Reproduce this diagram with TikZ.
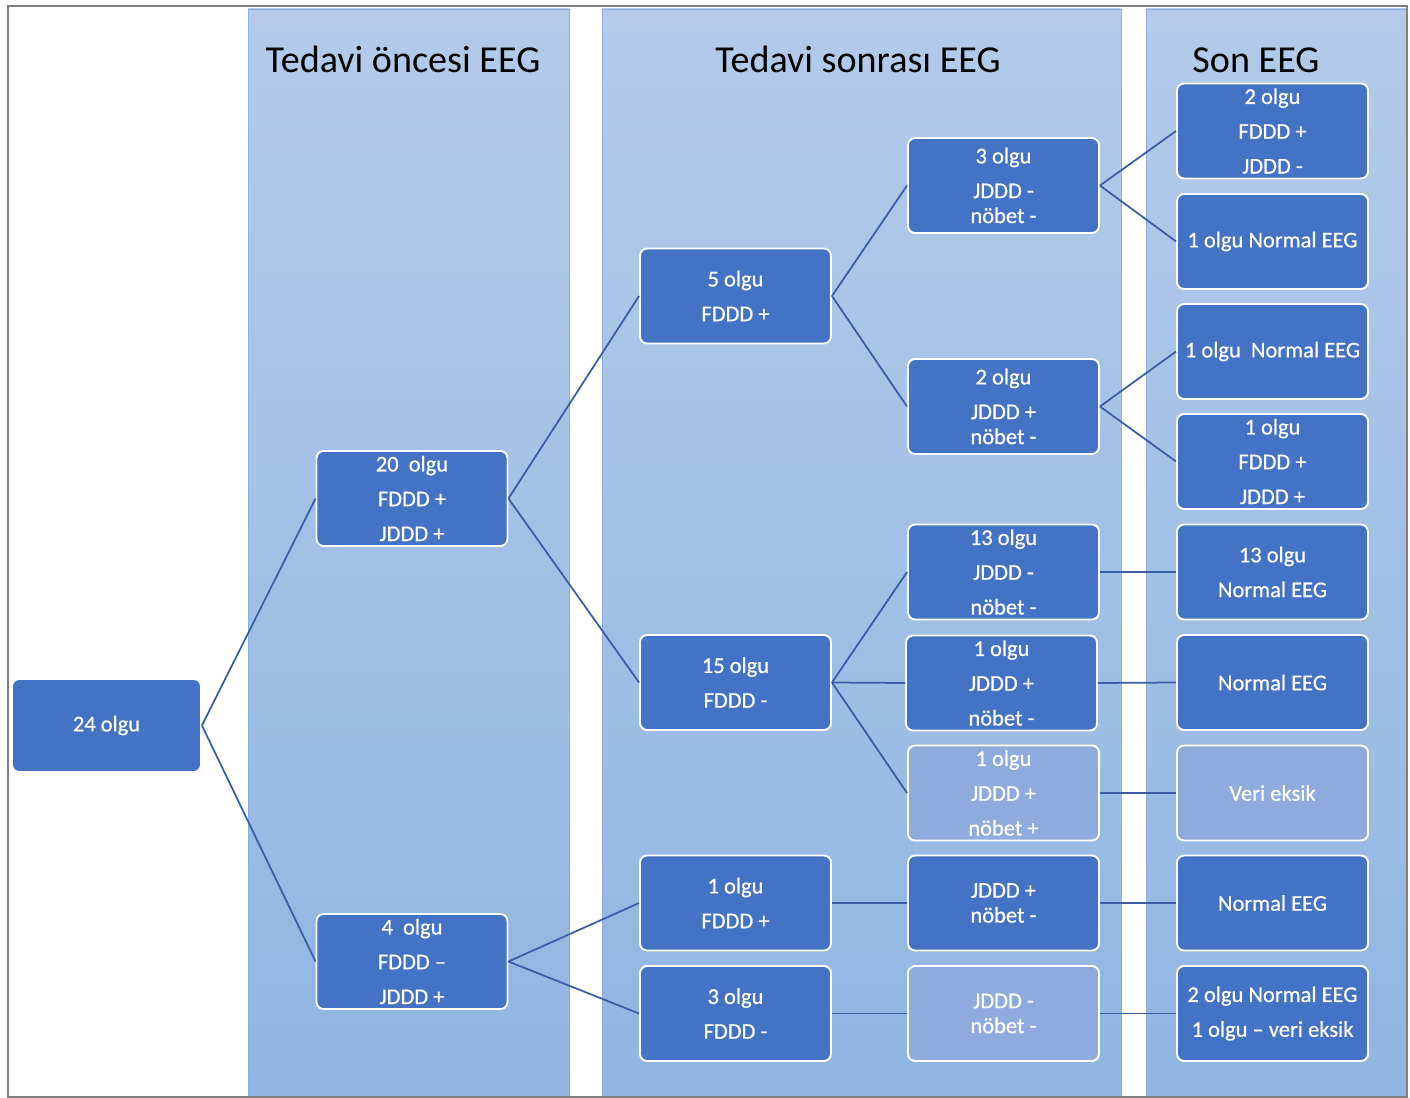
\documentclass[tikz,border=0pt]{standalone}
\usepackage{fontspec}
\setmainfont{Carlito}
\newfontfamily\kutufont[FakeBold=0.6,Ligatures=TeX]{Carlito}
\definecolor{boxblue}{HTML}{4472C4}
\definecolor{boxpale}{HTML}{8FAADC}
\definecolor{linkblue}{HTML}{3A5DA5}
\definecolor{coltop}{HTML}{B3CBE9}
\definecolor{colbot}{HTML}{90B5E2}
\definecolor{coledge}{HTML}{8AB0E0}

\begin{document}
\begin{tikzpicture}[x=0.02cm, y=-0.02cm,
  olgu/.style={draw=white, line width=1.1pt, fill=boxblue, rounded corners=4pt,
    text=white, minimum width=3.82cm, minimum height=1.9cm, inner sep=0pt,
    align=center, font=\kutufont\fontsize{12.8}{14.2}\selectfont},
  soluk/.style={olgu, fill=boxpale},
  baslik/.style={font=\fontsize{21.7}{24}\selectfont, anchor=base},
  kolon/.style={draw=coledge, line width=0.5pt, top color=coltop, bottom color=colbot},
  bag/.style={draw=linkblue, line width=1pt}]
  \useasboundingbox (0, 0) rectangle (1410, 1098);

  % columns
  \path [kolon] (248, 9) rectangle (569, 1098);
  \path [kolon] (602, 9) rectangle (1121, 1098);
  \path [kolon] (1146, 9) rectangle (1407, 1098);
  \draw [gray, line width=0.6pt] (8, 6) rectangle (1407, 1097);

  \node (t1) at (403, 73) [baslik] {Tedavi öncesi EEG};
  \node (t2) at (858, 73) [baslik] {Tedavi sonrası EEG};
  \node (t3) at (1256, 73) [baslik] {Son EEG};

  % first levels
  \node (n24) at (106.5, 725.5) [olgu, minimum width=3.78cm, minimum height=1.86cm] {24 olgu};
  \node (n20) at (412, 498.5) [olgu] {20~ olgu\\[5.6pt]FDDD +\\[5.6pt]JDDD +};
  \node (n4) at (412, 961.5) [olgu] {4~ olgu\\[5.6pt]FDDD –\\[5.6pt]JDDD +};

  % after treatment
  \node (n5) at (735.5, 296) [olgu] {5 olgu\\[5.6pt]FDDD +};
  \node (n15) at (735.5, 682.5) [olgu] {15 olgu\\[5.6pt]FDDD -};
  \node (n1) at (735.5, 903) [olgu] {1 olgu\\[5.6pt]FDDD +};
  \node (n3) at (735.5, 1013.5) [olgu] {3 olgu\\[5.6pt]FDDD -};

  \node (a) at (1003.5, 185.5) [olgu] {3 olgu\\[5.6pt]JDDD -\\nöbet -};
  \node (b) at (1003.5, 406.5) [olgu] {2 olgu\\[5.6pt]JDDD +\\nöbet -};
  \node (c) at (1003.5, 572) [olgu] {13 olgu\\[5.6pt]JDDD -\\[5.6pt]nöbet -};
  \node (d) at (1001.5, 683) [olgu] {1 olgu\\[5.6pt]JDDD +\\[5.6pt]nöbet -};
  \node (e) at (1003.5, 793) [soluk] {1 olgu\\[5.6pt]JDDD +\\[5.6pt]nöbet +};
  \node (f) at (1003.5, 903) [olgu] {JDDD +\\nöbet -};
  \node (g) at (1003.5, 1013.5) [soluk] {JDDD -\\nöbet -};

  % last EEG
  \node (r1) at (1272.5, 131) [olgu] {2 olgu\\[5.6pt]FDDD +\\[5.6pt]JDDD -};
  \node (r2) at (1272.5, 241.5) [olgu] {1 olgu Normal EEG};
  \node (r3) at (1272.5, 351.5) [olgu] {1 olgu~ Normal EEG};
  \node (r4) at (1272.5, 461.5) [olgu] {1 olgu\\[5.6pt]FDDD +\\[5.6pt]JDDD +};
  \node (r5) at (1272.5, 572) [olgu] {13 olgu\\[5.6pt]Normal EEG};
  \node (r6) at (1272.5, 682.5) [olgu] {Normal EEG};
  \node (r7) at (1272.5, 793) [soluk] {Veri eksik};
  \node (r8) at (1272.5, 903) [olgu] {Normal EEG};
  \node (r9) at (1272.5, 1013.5) [olgu] {2 olgu Normal EEG\\[5.6pt]1 olgu – veri eksik};

  % links
  \draw [bag] (n24.east) -- (n20.west);
  \draw [bag] (n24.east) -- (n4.west);
  \draw [bag] (n20.east) -- (n5.west);
  \draw [bag] (n20.east) -- (n15.west);
  \draw [bag] (n4.east) -- (n1.west);
  \draw [bag] (n4.east) -- (n3.west);
  \draw [bag] (n5.east) -- (a.west);
  \draw [bag] (n5.east) -- (b.west);
  \draw [bag] (n15.east) -- (c.west);
  \draw [bag] (n15.east) -- (d.west);
  \draw [bag] (n15.east) -- (e.west);
  \draw [bag] (n1.east) -- (f.west);
  \draw [bag] (n3.east) -- (g.west);
  \draw [bag] (a.east) -- (r1.west);
  \draw [bag] (a.east) -- (r2.west);
  \draw [bag] (b.east) -- (r3.west);
  \draw [bag] (b.east) -- (r4.west);
  \draw [bag] (c.east) -- (r5.west);
  \draw [bag] (d.east) -- (r6.west);
  \draw [bag] (e.east) -- (r7.west);
  \draw [bag] (f.east) -- (r8.west);
  \draw [bag] (g.east) -- (r9.west);
\end{tikzpicture}
\end{document}
